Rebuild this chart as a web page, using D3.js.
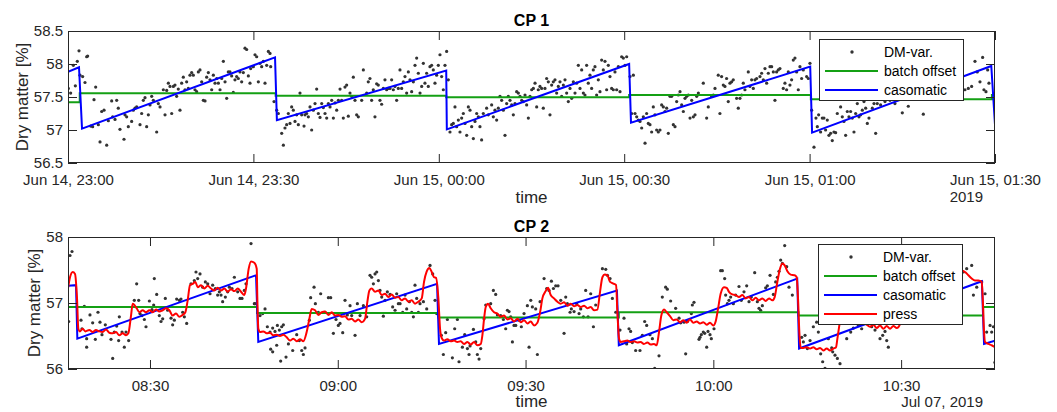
<!DOCTYPE html>
<html>
<head>
<meta charset="utf-8">
<script src="https://cdn.jsdelivr.net/npm/d3@7"></script>
<style>
body{margin:0;background:#fff}
svg{font-family:"Liberation Sans",Arial,sans-serif}
</style>
</head>
<body>
<div class="canvas"></div>
<script>
// ---- CP 1 data (time = minutes after Jun 14, 23:00) ----
var cp1XTicks=[0,30,60,90,120,150];
var cp1XLabels=["Jun 14, 23:00","Jun 14, 23:30","Jun 15, 00:00","Jun 15, 00:30","Jun 15, 01:00","Jun 15, 01:30"];
var cp1YTicks=[56.5,57,57.5,58,58.5];
var cp1YLabels=["56.5","57","57.5","58","58.5"];
var cp1BatchT=[0,1.9,33.6,61.2,90.8,120.2,149.5,150];
var cp1BatchV=[57.42,57.555,57.52,57.495,57.53,57.465,57.53];
var cp1Cas=[[0,57.88],[1.78,57.95],[2.27,57.02],[33.5,58.1],[33.8,57.15],[61.2,57.9],[61.3,57.01],[90.8,58.0],[91.1,57.11],[120.1,57.96],[120.4,56.96],[149.4,57.97],[150,57.08]];
var cp1Dm=[[0.05,57.63],[0.43,57.56],[0.86,57.98],[1.19,57.67],[1.51,58.04],[1.78,58.2],[1.94,57.83],[2.37,57.81],[2.75,57.72],[3.02,58.11],[3.18,58.12],[3.67,57.06],[3.99,57.05],[4.21,57.46],[4.48,57.65],[4.91,57.08],[5.18,56.82],[5.45,57.28],[5.83,57.3],[6.26,56.77],[6.53,57.14],[7.07,57.44],[7.23,57.2],[7.61,57.16],[7.88,57.45],[8.14,57.33],[8.41,57.01],[9.06,56.86],[9.22,57.23],[9.49,57.2],[9.76,57.05],[10.3,57.13],[10.57,57.3],[10.84,57.33],[11.11,57.35],[11.65,57.08],[11.92,57.25],[12.19,57.45],[12.46,57.49],[12.73,57.05],[13,57.23],[13.27,57.38],[13.54,57.51],[13.81,57.45],[14.35,56.97],[14.62,57.4],[14.89,57.35],[15.43,57.61],[15.7,57.23],[15.97,57.6],[16.24,57.71],[16.51,57.66],[16.78,57.25],[17.05,57.66],[17.31,57.68],[17.58,57.51],[17.85,57.62],[18.12,57.3],[18.39,57.71],[18.66,57.8],[18.93,57.61],[19.2,57.73],[19.47,57.63],[19.74,57.83],[20.01,57.87],[20.28,57.83],[20.55,57.61],[20.82,57.58],[21.09,57.88],[21.36,57.91],[21.63,57.73],[21.9,57.45],[22.17,57.44],[22.44,57.8],[22.71,57.87],[22.98,57.76],[23.25,57.61],[23.52,57.83],[23.79,57.71],[24.06,57.78],[24.33,57.71],[24.6,57.61],[24.87,57.78],[25.14,58.04],[25.41,57.73],[25.68,57.48],[25.94,57.88],[26.21,57.88],[26.48,57.82],[26.75,57.57],[27.02,57.76],[27.29,57.81],[27.56,57.78],[27.83,57.88],[28.1,57.73],[28.37,57.87],[28.64,58.24],[28.91,58.22],[29.18,57.82],[29.45,57.71],[29.56,57.93],[29.99,57.96],[30.26,58.14],[30.53,58.11],[30.8,57.73],[31.07,58.01],[31.34,57.96],[31.61,58.04],[31.88,57.71],[32.15,57.98],[32.42,58.19],[32.69,58.16],[32.8,57.96],[33.34,57.43],[33.77,57.3],[34.04,57.25],[34.58,56.95],[34.85,56.77],[35.11,57.03],[35.38,57.08],[35.65,57.25],[35.92,57.1],[36.19,57.35],[36.46,57.3],[36.73,57.13],[37,57.23],[37.27,57.08],[37.54,57.56],[37.81,57.23],[38.19,57.06],[38.35,57.23],[38.62,57.25],[38.89,57.2],[39.16,57.35],[39.43,57],[39.7,57.3],[39.97,57.4],[40.24,57.62],[40.51,57.25],[40.78,57.19],[41.05,57.4],[41.32,57.34],[41.59,57.25],[41.86,57.18],[42.13,57.4],[42.4,57.35],[42.67,57.45],[42.94,57.18],[43.21,57.41],[43.48,57.3],[43.75,57.45],[44.02,57.62],[44.28,57.45],[44.55,57.18],[44.82,57.65],[45.09,57.68],[45.36,57.21],[45.63,57.56],[45.9,57.51],[46.17,57.8],[46.44,57.45],[46.71,57.23],[46.98,57.2],
[47.52,57.45],[47.79,57.91],[48.33,57.56],[48.59,57.73],[48.86,57.78],[49.13,57.45],[49.4,57.61],[49.67,57.2],[49.94,57.7],[50.21,57.68],[50.48,57.45],[50.75,57.39],[51.02,57.63],[51.29,57.76],[51.56,57.61],[51.83,57.63],[52.1,57.63],[52.37,57.76],[52.64,57.61],[52.91,57.66],[53.18,57.45],[53.45,57.63],[53.72,57.91],[53.99,57.63],[54.26,57.73],[54.53,57.81],[54.8,57.56],[55.07,57.88],[55.34,57.76],[55.61,57.58],[55.88,57.73],[56.15,57.98],[56.42,58.09],[56.69,57.86],[56.96,57.56],[57.23,57.66],[57.5,58.01],[57.76,57.71],[58.03,57.86],[58.3,57.66],[58.57,57.96],[58.84,57.98],[59.11,57.91],[59.38,57.71],[59.65,57.83],[59.92,57.98],[60.19,58.14],[60.46,57.81],[60.73,57.61],[61,57.98],[61.27,58.19],[61.54,57.76],
[61.81,56.97],[62.08,57.08],[62.35,57.1],[62.62,57.35],[62.89,57.05],[63.16,57.15],[63.43,56.97],[63.7,57.18],[63.97,57.25],[64.24,57.1],[64.51,56.92],[64.78,57.35],[65.05,57.3],[65.32,57.05],[65.59,56.87],[65.86,57.13],[66.13,57.25],[66.4,57.2],[66.66,57.05],[66.93,56.85],[67.2,57.25],[67.74,57.33],[68.01,57.23],[68.55,57.38],[68.82,57.2],[69.09,57.3],[69.36,57.15],[69.63,57.33],[69.9,57.51],[70.17,57.45],[70.44,57.3],[70.71,56.92],[70.98,57.4],[71.25,57.51],[71.52,57.45],[71.79,57.38],[72.06,57.23],[72.33,57.4],[72.6,57.58],[72.87,57.56],[73.14,57.51],[73.41,57.45],[73.68,57.43],[73.95,57.53],[74.22,57.38],[74.49,57.18],[74.76,57.51],[75.03,57.61],[75.3,57.63],[75.57,57.71],[75.84,57.35],[76.1,57.61],[76.37,57.66],[76.64,57.63],[76.91,57.33],[77.18,57.63],[77.45,57.78],[77.72,57.73],[77.99,57.23],[78.26,57.68],[78.53,57.73],[78.8,57.76],[79.07,57.56],[79.34,57.66],[79.61,57.73],[79.88,57.51],[80.15,57.68],[80.42,57.76],[80.69,57.56],[80.96,57.43],[81.23,57.63],[81.5,57.48],[81.77,57.73],[82.04,57.56],[82.31,57.71],[82.58,57.98],[82.85,57.63],[83.12,57.91],[83.39,57.56],[83.65,57.53],[83.92,57.98],[84.19,57.71],[84.46,57.83],[84.73,57.63],[85,57.91],[85.27,57.96],[85.54,57.53],[85.81,57.76],[86.08,57.58],[86.35,58.06],[86.62,57.91],[86.89,58.04],[87.16,57.61],[87.43,57.98],[87.7,57.81],[87.97,57.63],[88.24,57.61],[88.51,57.88],[88.78,57.61],[89.05,57.96],[89.32,57.58],[89.59,58.11],[89.86,58.09],[90.13,57.98],[90.4,58.11],
[90.94,57.81],[91.21,57.25],[91.48,57.83],[91.75,57.25],[92.02,57.2],[92.29,57.15],[92.56,57.13],[92.83,57.03],[93.1,57.2],[93.37,56.8],[93.63,57.25],[93.9,57.1],[94.17,57.08],[94.44,56.97],[94.71,57.35],[94.98,57.23],[95.25,57],[95.52,56.97],[95.79,57],[96.06,57.38],[96.33,57.35],[96.6,57.28],[96.87,57.33],[97.14,56.95],[97.41,57.51],[97.68,57.51],[97.95,57.08],[98.22,57.05],[98.49,57.43],[98.76,57.53],[99.03,57.58],[99.3,57.38],[99.57,57.28],[99.84,57.48],[100.11,57.51],[100.38,57.53],[100.65,57.18],[100.92,57.45],[101.19,57.2],[101.46,57.23],[101.73,57.51],[102,57.56],
[102.8,57.71],[103.34,57.18],[103.61,57.35],[104.15,57.51],[104.42,57.53],[104.69,57.63],[105.22,57.83],[105.49,57.25],[105.76,57.81],[106.03,57.68],[106.3,57.66],[106.57,57.78],[106.84,57.43],[107.11,57.71],[107.38,57.73],[107.65,57.76],[108.19,57.48],[108.46,57.33],[108.73,57.48],[109,57.53],[109.27,57.71],[109.54,57.61],[110.08,57.88],[110.35,57.66],[110.62,57.76],[110.89,57.63],[111.16,57.76],[111.43,57.78],[111.97,57.81],[112.24,57.86],[112.51,57.76],[112.78,57.93],[113.05,57.71],[113.32,57.86],[113.59,57.96],[113.86,57.96],[114.13,57.88],[114.39,57.45],[114.66,57.88],[114.93,57.91],[115.2,57.93],[115.74,57.63],[116.01,57.71],[116.28,57.61],[116.55,57.88],[116.82,57.68],[117.09,57.76],[117.36,58.06],[117.63,58.09],[117.9,57.88],[118.17,57.61],[118.44,57.96],[118.71,57.78],[118.98,57.91],[119.52,57.81],[119.79,57.78],[120.06,58.01],
[120.33,57.3],[120.71,56.74],[121.03,57.18],[121.25,57.05],[121.46,57.23],[121.78,56.97],[122.05,57.18],[122.32,57.18],[122.59,57],[122.86,57.15],[123.13,56.92],[123.4,56.95],[123.67,56.84],[123.94,56.97],[124.21,56.96],[124.48,57.25],[125.02,57.35],[125.29,57.2],[125.56,57.13],[125.83,56.92],[126.1,57.28],[126.37,57.2],[126.64,57.28],[126.91,57.18],[127.18,56.97],[127.45,57.25],[127.72,57.4],[127.99,57.2],[128.26,57.23],[128.53,57.3],[128.8,57.43],[129.07,57.33],[129.34,57.1],[129.61,57.18],[130.15,57.33],[130.42,57.4],[130.69,56.95],[130.95,57.4],[131.49,57.38],[131.76,57.51],[132.2,57.43],[133,57.45],[133.81,57.4],[135,57.26],[135.97,57.36],[137.32,57.56],[138.4,57.24],[139.48,57.61],[140.56,57.71],[141.63,57.76],[142.71,57.63],[143.79,57.81],[145.14,57.61],[145.68,57.63],[146.22,57.66],[146.76,58.04],[147.13,57.88],[147.57,57.73],[148,58.1],[148.21,57.61],[148.54,57.58],[148.81,57.91],[149.02,57.71]];

// ---- CP 2 data (time = minutes after Jul 07, 08:00) ----
var cp2XTicks=[30,60,90,120,150];
var cp2XLabels=["08:30","09:00","09:30","10:00","10:30"];
var cp2YTicks=[56,57,58];
var cp2YLabels=["56","57","58"];
var cp2BatchT=[16.9,47.1,76.1,104.9,133.6,163.1,165];
var cp2BatchV=[56.94,56.85,56.78,56.86,56.81,56.94];
var cp2Cas=[[16.9,57.26],[18.18,57.27],[18.39,56.46],[46.94,57.42],[47.3,56.41],[75.86,57.29],[76.17,56.38],[104.6,57.19],[104.9,56.36],[133.4,57.37],[133.7,56.31],[162.9,57.33],[163.25,56.38],[165,56.43]];
var cp2Press=[[16.85,57.19],[17.22,57.39],[17.65,57.47],[18.02,57.44],[18.34,57.07],[18.55,56.61],[18.82,56.57],[19.24,56.61],[19.67,56.57],[20.31,56.59],[20.84,56.56],[21.37,56.59],[21.91,56.57],[22.44,56.56],[22.97,56.6],[23.5,56.55],[24.04,56.54],[24.57,56.56],[25.1,56.51],[25.63,56.54],[26.17,56.51],[26.54,56.54],[26.97,56.81],[27.23,56.99],[27.5,56.97],[27.87,56.92],[28.3,56.86],[28.83,56.89],[29.36,56.86],[29.9,56.89],[30.43,56.86],[30.96,56.9],[31.49,56.87],[32.03,56.89],[32.56,56.92],[33.09,56.89],[33.62,56.81],[34.16,56.84],[34.69,56.79],[35.22,56.82],[35.65,56.86],[36.02,57.04],[36.39,57.27],[36.82,57.29],[37.24,57.32],[37.62,57.24],[38.15,57.27],[38.68,57.22],[39.22,57.26],[39.75,57.22],[40.28,57.19],[40.81,57.23],[41.35,57.19],[41.88,57.22],[42.41,57.17],[42.94,57.21],[43.48,57.18],[44.01,57.22],[44.54,57.17],[45.07,57.12],[45.34,57.22],[45.77,57.52],[46.14,57.63],[46.67,57.61],[47.05,57.52],[47.15,57.07],[47.31,56.61],[47.58,56.56],[48.11,56.57],[48.64,56.54],[49.18,56.55],[49.71,56.51],[50.24,56.52],[50.77,56.5],[51.31,56.52],[51.84,56.48],[52.37,56.43],[52.9,56.46],[53.44,56.42],[53.97,56.45],[54.5,56.42],[55.03,56.56],[55.46,56.76],[55.83,56.91],[56.37,56.89],[56.9,56.82],[57.43,56.86],[57.96,56.87],[58.5,56.82],[59.03,56.86],[59.56,56.81],[60.09,56.82],[60.63,56.79],[61.16,56.8],[61.69,56.75],[62.22,56.76],[62.76,56.72],[63.29,56.75],[63.82,56.71],[64.35,56.76],[64.73,57.02],[65.05,57.19],[65.42,57.22],[65.95,57.17],[66.49,57.19],[67.02,57.12],[67.55,57.14],[68.08,57.09],[68.62,57.13],[69.15,57.08],[69.68,57.09],[70.21,57.04],[70.75,57.07],[71.28,57.02],[71.81,57.04],[72.34,56.99],[72.88,57.02],[73.41,57.07],[73.78,57.32],[74.21,57.48],[74.63,57.53],[75.01,57.47],[75.38,57.39],[75.7,57.38],[76.07,57.07],[76.34,56.61],[76.6,56.47],[76.98,56.43],[77.51,56.45],[78.04,56.42],[78.58,56.43],[79.11,56.41],[79.64,56.42],[80.17,56.38],[80.71,56.41],[81.24,56.37],[81.77,56.41],[82.3,56.36],[82.84,56.38],[83.1,56.51],[83.37,56.76],[83.64,56.94],[84.01,56.99],[84.43,56.92],[84.97,56.86],[85.5,56.84],[86.03,56.79],[86.56,56.81],[87.1,56.75],[87.63,56.77],[88.16,56.72],[88.7,56.76],[89.23,56.71],[89.76,56.74],[90.29,56.69],[90.83,56.72],[91.36,56.66],[91.89,56.7],[92.32,56.86],[92.69,57.07],[93.22,57.18],[93.59,57.23],[94.02,57.12],[94.55,57.07],[95.09,57.02],[95.62,56.99],[96.15,57.01],[96.68,56.96],[97.22,56.99],[97.75,56.95],[98.28,56.97],[98.81,56.94],[99.35,56.96],[99.88,56.92],[100.41,56.94],[100.94,56.89],[101.48,56.9],[101.9,57.17],[102.28,57.39],[102.65,57.43],[103.08,57.42],[103.5,57.32],[104.14,57.29],[104.46,57.27],[104.67,56.86],[104.94,56.46],[105.21,56.41],[105.73,56.42],[106.26,56.43],[106.79,56.41],[107.33,56.42],[107.86,56.4],[108.39,56.41],[108.92,56.38],[109.46,56.4],[109.99,56.37],[110.52,56.38],[110.95,56.36],[111.32,56.56],[111.69,56.81],[112.12,56.9],[112.55,56.86],[113.08,56.8],[113.61,56.74],[114.14,56.75],[114.68,56.71],[115.21,56.74],[115.74,56.7],[116.27,56.75],[116.81,56.7],[117.34,56.72],[117.87,56.69],[118.4,56.71],[118.94,56.67],[119.47,56.7],[120,56.66],[120.37,56.72],[120.75,56.91],[121.17,57.14],[121.71,57.24],[122.13,57.23],[122.5,57.17],[123.04,57.13],[123.57,57.12],[124.1,57.09],[124.64,57.12],[125.17,57.07],[125.7,57.09],[126.23,57.04],[126.77,57.08],[127.3,57.04],[127.83,57.07],[128.36,57.03],[128.9,57.07],[129.43,57.04],[129.8,57.09],[130.23,57.32],[130.65,57.52],[131.03,57.6],[131.4,57.57],[131.83,57.48],[132.36,57.43],[133,57.42],[133.32,57.39],[133.53,57.07],[133.74,56.56],[133.96,56.32],[134.38,56.32],[134.92,56.33],[135.45,56.31],[135.98,56.33],[136.51,56.3],[137.05,56.32],[137.58,56.28],[138.11,56.31],[138.64,56.28],[139.18,56.31],[139.6,56.33],[139.82,56.46],[140.13,56.66],[140.35,56.81],[140.56,56.91],[141.2,56.84],[142,56.78],[142.8,56.74],[143.6,56.72],[144.4,56.68],[145.03,56.64],[145.57,56.67],[146.1,56.62],[146.63,56.66],[147.17,56.61],[147.7,56.65],[148.23,56.61],[148.76,56.65],[149.3,56.62],[149.9,56.7],[150.4,57.05],[150.9,57.28],[151.5,57.26],[152.3,57.2],[153.2,57.22],[154.1,57.17],[155,57.2],[155.9,57.15],[156.8,57.18],[157.6,57.14],[158.3,57.3],[158.9,57.46],[159.68,57.49],[160.21,57.47],[160.75,57.42],[161.28,57.37],[161.81,57.34],[162.34,57.34],[162.88,57.32],[163.04,57.07],[163.25,56.56],[163.41,56.41],[163.94,56.38],[164.47,56.36],[165,56.33]];
var cp2Dm=[[17.01,56.72],[17.22,57.72],[17.54,57.78],[18.98,56.74],[19.51,56.95],[19.14,56.61],[19.88,56.46],[19.88,56.33],[20.41,56.82],[20.84,56.7],[21.27,56.45],[21.69,56.86],[22.01,56.71],[22.33,56.52],[22.86,56.67],[23.77,56.45],[24.04,56.16],[24.3,56.56],[24.68,56.65],[24.99,56.43],[25.1,56.79],[25.53,56.56],[25.9,56.33],[26.17,56.56],[26.59,56.43],[27.5,57.04],[27.87,57.29],[28.19,57.04],[28.4,56.84],[28.72,56.81],[29.1,56.75],[29.36,56.64],[29.9,57.03],[30.32,56.9],[30.59,56.97],[30.69,57.37],[31.07,57.13],[31.49,56.81],[31.76,56.72],[32.03,56.76],[32.45,57.07],[32.82,56.89],[33.36,56.77],[33.62,56.67],[33.89,56.74],[34.26,57.06],[34.69,57.04],[34.95,57.06],[35.22,56.86],[35.49,56.79],[35.86,56.69],[36.55,57.29],[37.08,57.34],[37.35,57.47],[37.62,57.37],[37.99,57.44],[38.42,57.24],[38.84,57.32],[39.22,57.29],[39.59,57.14],[40.01,57.27],[40.44,57.22],[40.81,57.12],[41.08,57.17],[41.35,57.12],[41.61,57.02],[42.04,57.09],[42.41,57.17],[42.68,57.24],[43.1,57.22],[43.48,57.39],[44.01,57.17],[44.38,57.07],[44.7,57.07],[45.07,57.19],[45.34,57.29],[46.14,57.9],[46.67,56.99],
[46.78,56.99],[47.58,56.81],[48,56.84],[48.38,56.91],[48.75,56.64],[49.18,56.56],[49.28,56.3],[49.6,56.62],[49.6,56.26],[49.97,56.57],[50.24,56.36],[50.35,56.66],[50.67,56.59],[50.88,56.12],[51.04,56.64],[51.31,56.67],[51.73,56.18],[52.11,56.38],[52.8,56.28],[53.44,56.52],[53.86,56.43],[54.24,56.28],[54.5,56.22],[54.77,56.32],[55.46,56.74],[55.67,57.08],[56.21,57.24],[56.42,56.99],[56.9,56.86],[57.27,57.14],[57.96,56.86],[58.5,57.08],[58.87,57.08],[59.3,56.54],[59.72,56.75],[60.09,56.66],[60.36,56.69],[60.79,56.55],[61.16,57.04],[61.53,56.82],[61.96,56.96],[62.22,56.81],[62.76,56.51],[63.13,56.99],[63.56,56.81],[64.09,56.96],[64.62,56.79],[65.15,57.42],[65.42,57.39],[65.69,57.29],[65.95,57.44],[66.22,57.47],[66.49,57.34],[66.75,57.19],[67.02,57.09],[67.28,56.8],[67.55,57.04],[67.92,57.17],[68.35,57.13],[68.77,56.94],[69.15,56.89],[69.41,57.14],[69.68,56.99],[69.95,56.99],[70.37,56.86],[70.75,57.12],[71.01,56.91],[71.44,57.02],[71.81,56.86],[72.08,56.79],[72.34,57.27],[72.61,57.07],[72.88,56.86],[73.14,56.99],[73.68,57.02],[74.21,56.91],[74.74,57.57],[75.17,57.44],[75.54,57.04],[75.8,56.84],
[76.55,56.51],[76.87,56.22],[77.24,56.55],[77.51,56.75],[78.31,56.17],[78.68,56.61],[79.11,56.75],[79.37,56.11],[79.91,56.33],[80.28,56.52],[80.71,56.31],[80.97,56.22],[81.13,56.35],[81.67,56.6],[82.04,56.41],[82.3,56.22],[82.57,56.15],[82.84,56.31],[83.37,56.76],[83.64,56.97],[84.43,56.99],[84.86,57.19],[85.23,57.13],[85.5,56.82],[86.03,56.81],[86.46,56.75],[86.83,56.61],[87.1,56.89],[87.36,56.87],[87.63,56.79],[87.9,56.41],[88.16,56.66],[88.43,56.66],[88.96,56.74],[89.33,56.64],[89.76,56.84],[90.29,56.96],[90.56,56.33],[90.83,57.04],[91.09,56.94],[91.62,56.91],[91.89,56.22],[92.32,57.02],[92.96,57.37],[93.38,57.22],[93.75,57.19],[94.13,57.33],[94.45,57.22],[94.82,57.26],[95.19,57.26],[95.62,57.04],[96.15,56.54],[96.42,57.09],[96.68,56.99],[97.11,56.86],[97.32,56.91],[97.75,56.87],[98.17,56.99],[98.55,56.84],[98.81,56.91],[99.24,56.79],[99.61,57.19],[99.99,56.79],[100.41,57.14],[100.84,56.64],[101.21,56.97],[102.28,57.52],[102.81,57.51],[103.08,57.42],[103.5,57.37],[103.87,57.07],[104.41,56.86],
[105.09,56.59],[105.73,56.77],[106.15,56.38],[106.53,56.61],[106.79,56.57],[107.06,56.4],[107.59,56.28],[108.28,56.28],[108.66,56.51],[109.03,56.72],[109.35,56.66],[109.88,56.52],[110.26,56.46],[110.63,56.01],[111.32,56.2],[111.85,57.09],[112.38,57.24],[112.65,57.21],[113.18,57.03],[113.98,56.92],[114.52,56.77],[114.78,56.7],[115.31,56.71],[115.58,56.23],[115.85,56.72],[116.49,56.84],[116.65,56.97],[116.91,57.01],[117.71,56.45],[117.87,56.48],[118.08,56.52],[118.4,56.56],[118.62,56.54],[118.94,56.33],[119.15,56.57],[119.47,56.52],[119.68,56.46],[120.11,56.61],[121.17,57.49],[121.44,57.49],[121.81,57.37],[121.97,57.12],[122.24,56.99],[122.5,57.04],[122.77,57.09],[123.2,56.99],[123.57,57.12],[124.1,57.25],[124.47,57.04],[124.9,57.17],[125.33,57.26],[125.7,57.02],[126.07,57.09],[126.61,57.46],[127.03,57.02],[127.3,56.92],[127.56,56.89],[127.83,56.96],[128.36,57.23],[128.63,57.26],[129.06,57.42],[129.59,57.13],[129.96,57.32],[130.23,57.39],[130.49,57.48],[130.76,57.65],[131.03,57.6],[131.4,57.87],[131.72,57.55],[132.09,57.24],[132.62,57.12],
[134.12,56.48],[134.38,56.41],[134.65,56.51],[135.02,56.31],[135.45,56.43],[135.98,56.64],[136.51,56.71],[136.78,56.56],[137.15,56.23],[137.47,56.11],[137.84,56.01],[138.38,56.46],[138.91,56.32],[139.07,56.26],[139.44,56.21],[139.82,56.16],[140.24,56.08],[141.31,56.46],[141.95,56.56],[142.37,56.62],[143.17,56.66],[143.7,56.61],[145.3,56.64],[145.83,56.59],[146.63,56.46],[147.06,56.51],[147.43,56.57],[147.7,56.43],[147.96,56.33],[159.41,57.57],[159.95,57.47],[160.48,57.52],[161.28,57.57],[161.55,57.12],[162.08,57.24],[162.88,57.32],[163.41,57.14],[163.67,56.56],[164.21,56.66],[164.47,56.56],[164.74,56.64],[164.98,56.1]];

var cp1Legend=["DM-var.","batch offset","casomatic"];
var cp2Legend=["DM-var.","batch offset","casomatic","press"];

const W=1057,H=412;
const ink="#262626";
const colors={dm:"#333333",batch:"#14a014",cas:"#0000ff",press:"#ff0000"};

const svg=d3.select(".canvas").append("svg")
    .attr("width",W).attr("height",H);

function stairs(ts,vs){
  var pts=[];
  for(var i=0;i<vs.length;i++){
    pts.push([ts[i],vs[i]]);
    pts.push([ts[i+1],vs[i]]);
  }
  return pts;
}

function drawPanel(p){
  const left=68,right=995;
  const x=d3.scaleLinear().domain(p.xDom).range([left,right]);
  const y=d3.scaleLinear().domain(p.yDom).range([p.bottom,p.top]);
  const g=svg.append("g");

  g.append("clipPath").attr("id","clip"+p.id)
    .append("rect").attr("x",left).attr("y",p.top)
    .attr("width",right-left).attr("height",p.bottom-p.top);

  const plot=g.append("g").attr("clip-path","url(#clip"+p.id+")");
  const line=d3.line().x(d=>x(d[0])).y(d=>y(d[1]));

  plot.selectAll("circle.dm").data(p.dm).enter().append("circle")
    .attr("class","dm")
    .attr("cx",d=>x(d[0])).attr("cy",d=>y(d[1]))
    .attr("r",1.6).attr("fill",colors.dm);

  plot.append("path").datum(stairs(p.batchT,p.batchV))
    .attr("d",line).attr("fill","none")
    .attr("stroke",colors.batch).attr("stroke-width",2);

  plot.append("path").datum(p.cas)
    .attr("d",line).attr("fill","none")
    .attr("stroke",colors.cas).attr("stroke-width",2);

  if(p.press){
    plot.append("path").datum(p.press)
      .attr("d",line.curve(d3.curveMonotoneX)).attr("fill","none")
      .attr("stroke",colors.press).attr("stroke-width",2);
  }

  // axes, MATLAB style: ticks inside on all four sides
  const ax=[
    d3.axisBottom(x).tickValues(p.xTicks).tickFormat((d,i)=>p.xLabels[i]).tickPadding(11),
    d3.axisTop(x).tickValues(p.xTicks).tickFormat(""),
    d3.axisLeft(y).tickValues(p.yTicks).tickFormat((d,i)=>p.yLabels[i]).tickPadding(5),
    d3.axisRight(y).tickValues(p.yTicks).tickFormat("")
  ];
  const pos=["translate(0,"+p.bottom+")","translate(0,"+p.top+")","translate("+left+",0)","translate("+right+",0)"];
  ax.forEach(function(a,i){
    a.tickSizeInner(-9).tickSizeOuter(0);
    const ga=g.append("g").attr("transform",pos[i]).call(a);
    ga.select(".domain").remove();
    ga.selectAll("line").attr("stroke",ink).attr("stroke-width",1);
    ga.selectAll("text").attr("fill",ink).style("font-size","15px")
      .style("font-family","'Liberation Sans',Arial,sans-serif");
  });

  g.append("rect").attr("x",left+0.5).attr("y",p.top+0.5)
    .attr("width",right-left-1).attr("height",p.bottom-p.top-1)
    .attr("fill","none").attr("stroke",ink).attr("stroke-width",1);

  g.append("text").text(p.title)
    .attr("x",(left+right)/2).attr("y",p.top-5)
    .attr("text-anchor","middle").attr("font-weight","bold")
    .attr("font-size",16).attr("fill","#000");

  g.append("text").text("time")
    .attr("x",(left+right)/2).attr("y",p.timeY)
    .attr("text-anchor","middle").attr("font-size",17).attr("fill",ink);

  g.append("text").text(p.dateLabel)
    .attr("x",983).attr("y",p.dateY)
    .attr("text-anchor","end").attr("font-size",15).attr("fill",ink);

  g.append("text").text("Dry matter [%]")
    .attr("transform","translate("+p.yLabX+","+((p.top+p.bottom)/2)+") rotate(-90)")
    .attr("text-anchor","middle").attr("font-size",17).attr("fill",ink);

  // legend
  const lg=g.append("g").attr("transform","translate("+p.legX+","+p.legY+")");
  const rowH=19;
  lg.append("rect").attr("x",0.5).attr("y",0.5)
    .attr("width",144).attr("height",p.legend.length*rowH+4)
    .attr("fill","#fff").attr("stroke",ink).attr("stroke-width",1);
  const keys=["dm","batch","cas","press"];
  p.legend.forEach(function(name,i){
    const cy=13+i*rowH;
    if(keys[i]==="dm"){
      lg.append("circle").attr("cx",33).attr("cy",cy).attr("r",1.7).attr("fill",colors.dm);
    } else {
      lg.append("line").attr("x1",6).attr("x2",59).attr("y1",cy).attr("y2",cy)
        .attr("stroke",colors[keys[i]]).attr("stroke-width",2);
    }
    lg.append("text").text(name).attr("x",65).attr("y",cy+5)
      .attr("font-size",14).attr("fill","#000");
  });
}

drawPanel({id:1,top:31,bottom:163,xDom:[0,150],yDom:[56.5,58.5],
  xTicks:cp1XTicks,xLabels:cp1XLabels,yTicks:cp1YTicks,yLabels:cp1YLabels,
  dm:cp1Dm,batchT:cp1BatchT,batchV:cp1BatchV,cas:cp1Cas,
  title:"CP 1",timeY:203,dateY:202,dateLabel:"2019",yLabX:28,
  legend:cp1Legend,legX:819,legY:39});

drawPanel({id:2,top:237,bottom:369,xDom:[16.9,165],yDom:[56,58],
  xTicks:cp2XTicks,xLabels:cp2XLabels,yTicks:cp2YTicks,yLabels:cp2YLabels,
  dm:cp2Dm,batchT:cp2BatchT,batchV:cp2BatchV,cas:cp2Cas,press:cp2Press,
  title:"CP 2",timeY:407,dateY:407,dateLabel:"Jul 07, 2019",yLabX:40,
  legend:cp2Legend,legX:818,legY:244});
</script>
</body>
</html>
